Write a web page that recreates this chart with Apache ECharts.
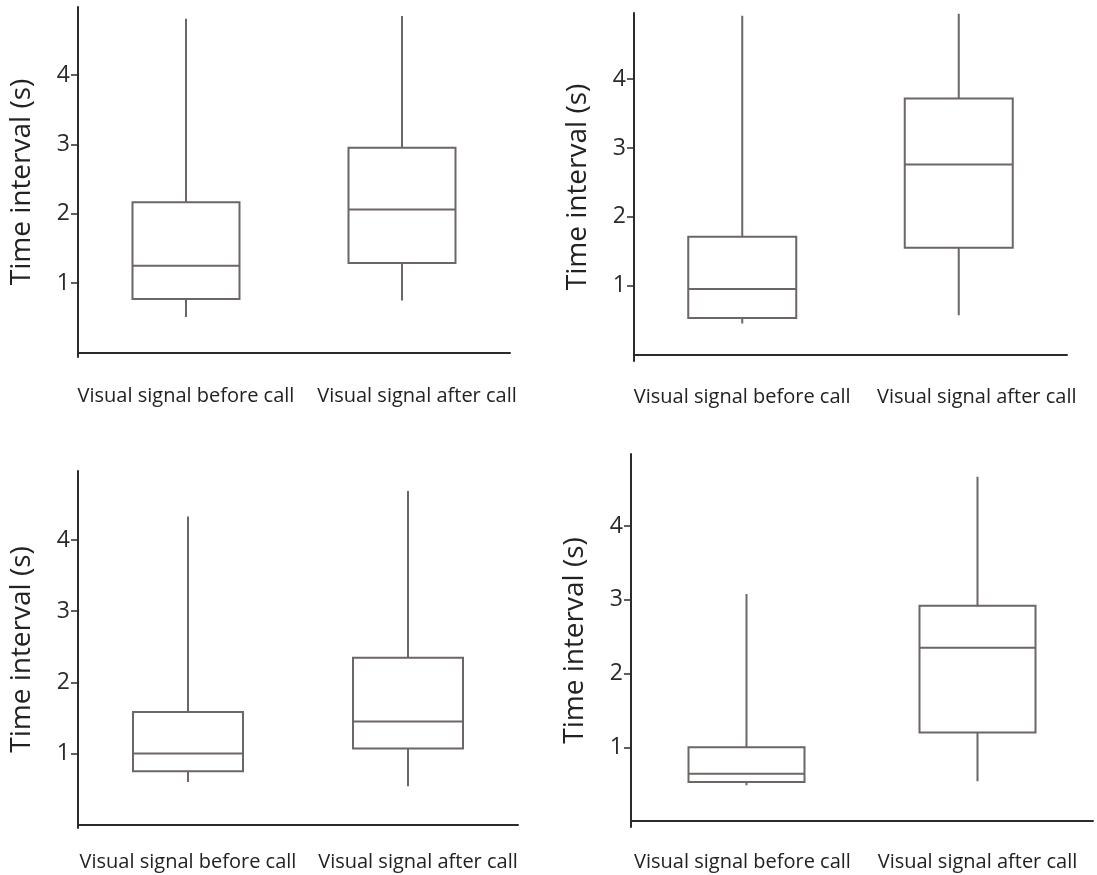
<!DOCTYPE html>
<html>
<head>
<meta charset="utf-8">
<script src="https://cdn.jsdelivr.net/npm/echarts@6/dist/echarts.min.js"></script>
<style>
html,body{margin:0;padding:0;background:#fff;}
#chart{width:1097px;height:875px;}
</style>
</head>
<body>
<div id="chart"></div>
<script>
// categories
const categories = ['Visual signal before call', 'Visual signal after call'];
// [min, Q1, median, Q3, max] per category
const panelA = [[0.51, 0.77, 1.25, 2.165, 4.81], [0.75, 1.29, 2.06, 2.95, 4.85]];
const panelB = [[0.45, 0.53, 0.95, 1.71, 4.92], [0.57, 1.55, 2.76, 3.72, 4.95]];
const panelC = [[0.60, 0.75, 1.00, 1.585, 4.33], [0.54, 1.07, 1.45, 2.345, 4.69]];
const panelD = [[0.485, 0.53, 0.643, 1.00, 3.08], [0.54, 1.20, 2.35, 2.92, 4.67]];
const yTickValues = [1, 2, 3, 4];
const yName = 'Time interval (s)';

const panels = [panelA, panelB, panelC, panelD];
const grids = [
  {left: 78, top: 7, width: 432, height: 350},
  {left: 634, top: 13, width: 433, height: 348},
  {left: 78, top: 471, width: 440, height: 357},
  {left: 631, top: 454, width: 462, height: 373}
];
const yRanges = [[-0.065, 4.98], [-0.094, 4.96], [-0.046, 4.97], [-0.081, 4.98]];
const labelShift = [[0, 30], [0, 36], [0, 20], [-8, 0]];
const labelMargin = [29, 26, 24, 25];
const boxWidths = [107, 108, 110, 116];

const FONT = 'Open Sans';
const AXIS = '#2b2b2b';
const BOX = '#6c6664';

const xAxes = [], yAxes = [], series = [];
panels.forEach((p, i) => {
  xAxes.push({
    type: 'category', gridIndex: i,
    data: categories.map((c, k) => ({
      value: c,
      textStyle: {padding: labelShift[i][k] >= 0 ? [0, 0, 0, labelShift[i][k]] : [0, -labelShift[i][k], 0, 0]}
    })),
    axisLine: {lineStyle: {color: AXIS, width: 2}},
    axisTick: {alignWithLabel: true, length: 10, lineStyle: {color: AXIS, width: 2}},
    axisLabel: {fontFamily: FONT, fontSize: 20, color: '#222', margin: labelMargin[i], interval: 0},
    splitLine: {show: false}
  });
  yAxes.push({
    type: 'value', gridIndex: i, min: yRanges[i][0], max: yRanges[i][1],
    axisLine: {show: true, lineStyle: {color: AXIS, width: 2}},
    axisTick: {show: true, customValues: yTickValues, length: 7, lineStyle: {color: AXIS, width: 1.5}},
    axisLabel: {customValues: yTickValues, fontFamily: FONT, fontSize: 23, color: '#2a2a2a', margin: 8},
    splitLine: {show: false},
    name: yName, nameLocation: 'middle', nameGap: 42,
    nameTextStyle: {fontFamily: FONT, fontSize: 28, color: '#222'}
  });
  // whiskers: single vertical line from min to max, drawn behind the box
  series.push({
    type: 'custom', xAxisIndex: i, yAxisIndex: i, z: 1,
    data: p.map((d, k) => [k, d[0], d[4]]),
    renderItem: function (params, api) {
      const a = api.coord([api.value(0), api.value(1)]);
      const b = api.coord([api.value(0), api.value(2)]);
      return {type: 'line', shape: {x1: a[0], y1: a[1], x2: b[0], y2: b[1]},
        style: {stroke: BOX, lineWidth: 2}};
    },
    silent: true
  });
  // boxes: Q1..Q3 with median; whisker ends collapsed onto box edges
  series.push({
    type: 'boxplot', xAxisIndex: i, yAxisIndex: i, z: 3,
    boxWidth: [boxWidths[i], boxWidths[i]],
    data: p.map(d => [d[1], d[1], d[2], d[3], d[3]]),
    itemStyle: {color: '#ffffff', borderColor: BOX, borderWidth: 2},
    silent: true, animation: false
  });
});

const chart = echarts.init(document.getElementById('chart'));
chart.setOption({
  animation: false,
  grid: grids,
  xAxis: xAxes,
  yAxis: yAxes,
  series: series
});
</script>
</body>
</html>
